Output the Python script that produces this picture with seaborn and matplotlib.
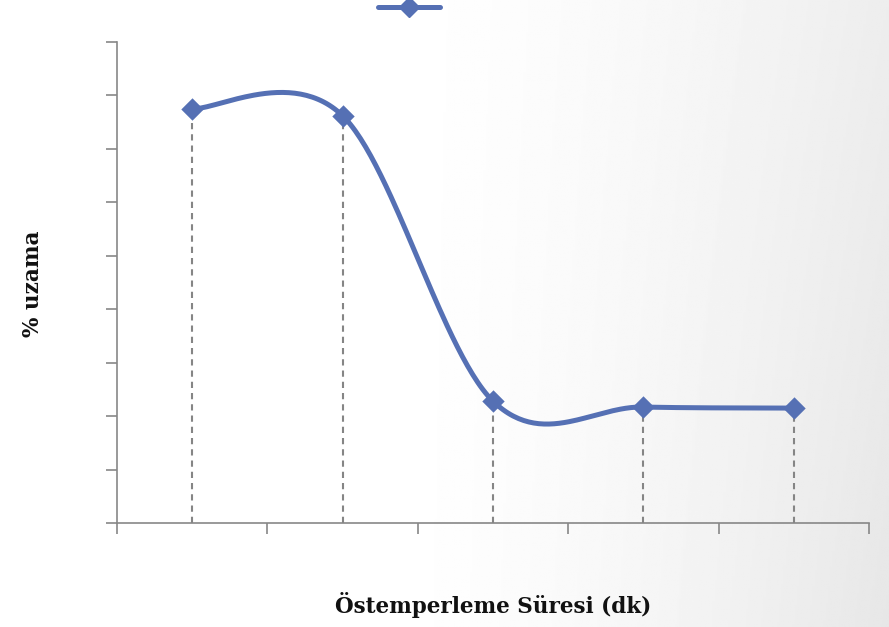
import numpy as np
import pandas as pd
import matplotlib
matplotlib.use("Agg")
import matplotlib.pyplot as plt
from matplotlib.lines import Line2D
import seaborn as sns

# Series data
categories = [1, 2, 3, 4, 5]
uzama = [7.75, 7.62, 2.28, 2.17, 2.15]

LINE_COLOR = "#5570B4"
AXIS_COLOR = "#878787"

sns.set_theme(style="white")
plt.rcParams["font.family"] = ["DejaVu Serif"]

fig = plt.figure(figsize=(8.89, 6.27), dpi=100)

# Soft grey gradient toward the right edge of the figure
bg = fig.add_axes([0, 0, 1, 1], zorder=-10)
gx, gy = np.meshgrid(np.linspace(0, 1, 400), np.linspace(0, 1, 300))
shade = np.clip((gx - 0.42) / 0.58, 0, 1) ** 1.5 * (0.070 + 0.025 * gy)
bg.imshow(1 - shade, cmap="gray", vmin=0, vmax=1, aspect="auto",
          extent=[0, 1, 0, 1], origin="upper")
bg.axis("off")

ax = fig.add_axes([117 / 889, 1 - 523 / 627, (869 - 117) / 889, (523 - 42) / 627])
ax.patch.set_alpha(0)


def smooth_curve(xs, ys, n=60):
    """Cardinal (Catmull-Rom) Bezier smoothing through the points."""
    p = np.column_stack([xs, ys]).astype(float)
    ext = np.vstack([p[0], p, p[-1]])
    t = np.linspace(0, 1, n)[:, None]
    out = []
    for i in range(len(p) - 1):
        p0, p1 = ext[i + 1], ext[i + 2]
        b1 = p0 + (ext[i + 2] - ext[i]) / 6
        b2 = p1 - (ext[i + 3] - ext[i + 1]) / 6
        seg = ((1 - t) ** 3) * p0 + 3 * ((1 - t) ** 2) * t * b1 \
            + 3 * (1 - t) * t ** 2 * b2 + t ** 3 * p1
        out.append(seg if i == 0 else seg[1:])
    s = np.vstack(out)
    return s[:, 0], s[:, 1]


sx, sy = smooth_curve(categories, uzama)
curve = pd.DataFrame({"x": sx, "y": sy})
pts = pd.DataFrame({"x": categories, "y": uzama})

# Drop lines from each point to the category axis
for cx, cy in zip(categories, uzama):
    ax.plot([cx, cx], [0, cy], color="#858585", linewidth=1.5,
            dashes=(3.0, 2.4), zorder=1)

sns.lineplot(data=curve, x="x", y="y", ax=ax, color=LINE_COLOR,
             linewidth=3.6, sort=False, zorder=3, solid_capstyle="round")
sns.scatterplot(data=pts, x="x", y="y", ax=ax, marker="D", s=130,
                color=LINE_COLOR, edgecolor=LINE_COLOR, linewidth=0, zorder=4)

ax.set_xlim(0.5, 5.5)
ax.set_ylim(0, 9)
ax.set_xticks(np.arange(0.5, 6.0, 1.0))
ax.set_yticks(np.arange(0, 10, 1))
ax.set_xticklabels([])
ax.set_yticklabels([])
ax.tick_params(axis="both", which="both", direction="out", length=8,
               width=1.2, color=AXIS_COLOR, bottom=True, left=True)
for side in ["top", "right"]:
    ax.spines[side].set_visible(False)
for side in ["left", "bottom"]:
    ax.spines[side].set_color(AXIS_COLOR)
    ax.spines[side].set_linewidth(1.2)

ax.set_xlabel("")
ax.set_ylabel("")
fig.text(493 / 889, 1 - 605 / 627, "Östemperleme Süresi (dk)", ha="center",
         va="center", fontsize=15.5, fontweight="bold", color="#111111")
fig.text(33 / 889, 1 - 284 / 627, "% uzama", ha="center", va="center",
         rotation=90, fontsize=15.5, fontweight="bold", color="#111111")

# Series legend (marker sample only)
handle = Line2D([], [], color=LINE_COLOR, linewidth=3.6, marker="D",
                markersize=10, solid_capstyle="round")
fig.legend([handle], [" "], loc="center", bbox_to_anchor=(413 / 889, 1 - 8 / 627),
           frameon=False, handlelength=4.0, handletextpad=0.2, borderpad=0)

fig.savefig("out.png", dpi=100)
